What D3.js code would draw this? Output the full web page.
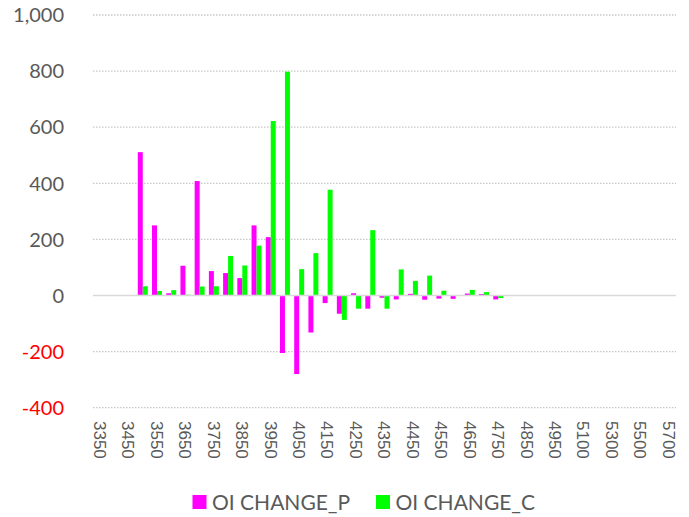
<!DOCTYPE html>
<html>
<head>
<meta charset="utf-8">
<script src="https://cdn.jsdelivr.net/npm/d3@7"></script>
<style>
  html, body { margin: 0; padding: 0; background: #fff; }
  svg { display: block; }
</style>
</head>
<body>
<svg id="chart" width="689" height="517"></svg>
<script>
const categories = ["3350","3400","3450","3500","3550","3600","3650","3700","3750","3800","3850","3900","3950","4000","4050","4100","4150","4200","4250","4300","4350","4400","4450","4500","4550","4600","4650","4700","4750","4800","4850","4900","4950","5000","5100","5200","5300","5400","5500","5600","5700"];
const oiChangeP = [0,0,0,511,250,8,106,408,87,80,62,250,208,-205,-280,-132,-27,-65,8,-47,-8,-14,6,-15,-11,-12,7,5,-14,0,0,0,0,0,0,0,0,0,0,0,0];
const oiChangeC = [0,0,0,33,16,19,3,32,33,141,107,178,622,798,94,151,377,-87,-47,233,-47,93,52,71,17,0,20,12,-9,0,0,0,0,0,0,0,0,0,0,0,0];
const seriesNames = ["OI CHANGE_P", "OI CHANGE_C"];
const seriesColors = ["#FF00FF", "#00FF00"];
const yTicks = [-400,-200,0,200,400,600,800,1000];

const svg = d3.select("#chart");
const plotLeft = 93, plotRight = 676, plotTop = 15, plotBottom = 407.7;

const x0 = d3.scaleBand().domain(categories).range([plotLeft, plotRight]).paddingInner(0.3).paddingOuter(0.15);
const x1 = d3.scaleBand().domain([0,1]).range([0, x0.bandwidth()]);
const y = d3.scaleLinear().domain([-400, 1000]).range([plotBottom, plotTop]);

// gridlines
svg.append("g").selectAll("line").data(yTicks.filter(d => d !== 0)).join("line")
  .attr("x1", plotLeft).attr("x2", plotRight)
  .attr("y1", d => y(d)).attr("y2", d => y(d))
  .attr("stroke", "#c8c8c8").attr("stroke-width", 1.3)
  .attr("stroke-dasharray", "1.5,1.5");

// y labels
svg.append("g").selectAll("text").data(yTicks).join("text")
  .attr("x", 64).attr("y", d => y(d)).attr("dy", "0.36em")
  .attr("text-anchor", "end")
  .attr("font-family", "Lato, 'Open Sans', sans-serif").attr("font-size", 20)
  .attr("fill", d => d < 0 ? "#FF0000" : "#595959")
  .text(d => d3.format(",")(d).replace("\u2212", "-"));

// bars
const data = categories.map((c, i) => ({c, vals: [oiChangeP[i], oiChangeC[i]]}));
const groups = svg.append("g").selectAll("g").data(data).join("g")
  .attr("transform", d => `translate(${x0(d.c)},0)`);
groups.selectAll("rect").data(d => d.vals.map((v, k) => ({v, k}))).join("rect")
  .attr("x", d => x1(d.k))
  .attr("width", x1.bandwidth())
  .attr("y", d => y(Math.max(0, d.v)))
  .attr("height", d => Math.abs(y(d.v) - y(0)))
  .attr("fill", d => seriesColors[d.k]);

// zero axis line
svg.append("line").attr("x1", plotLeft).attr("x2", plotRight)
  .attr("y1", y(0)).attr("y2", y(0))
  .attr("stroke", "#d9d9d9").attr("stroke-width", 1.5);

// x labels (every other category)
svg.append("g").selectAll("text").data(categories.filter((d, i) => i % 2 === 0)).join("text")
  .attr("transform", d => `translate(${x0(d) + x0.bandwidth()/2},421) rotate(90)`)
  .attr("dy", "0.36em")
  .attr("text-anchor", "start")
  .attr("font-family", "'Liberation Sans', Arial, sans-serif").attr("font-size", 17)
  .attr("fill", "#595959")
  .text(d => d);

// legend
const legendX = [192.5, 376];
const lg = svg.append("g").selectAll("g").data(seriesNames).join("g")
  .attr("transform", (d, i) => `translate(${legendX[i]},495)`);
lg.append("rect").attr("width", 14).attr("height", 14).attr("fill", (d, i) => seriesColors[i]);
lg.append("text").attr("x", 19.5).attr("y", 15)
  .attr("font-family", "Lato, 'Open Sans', sans-serif").attr("font-size", 21)
  .attr("fill", "#595959").text(d => d);
</script>
</body>
</html>
